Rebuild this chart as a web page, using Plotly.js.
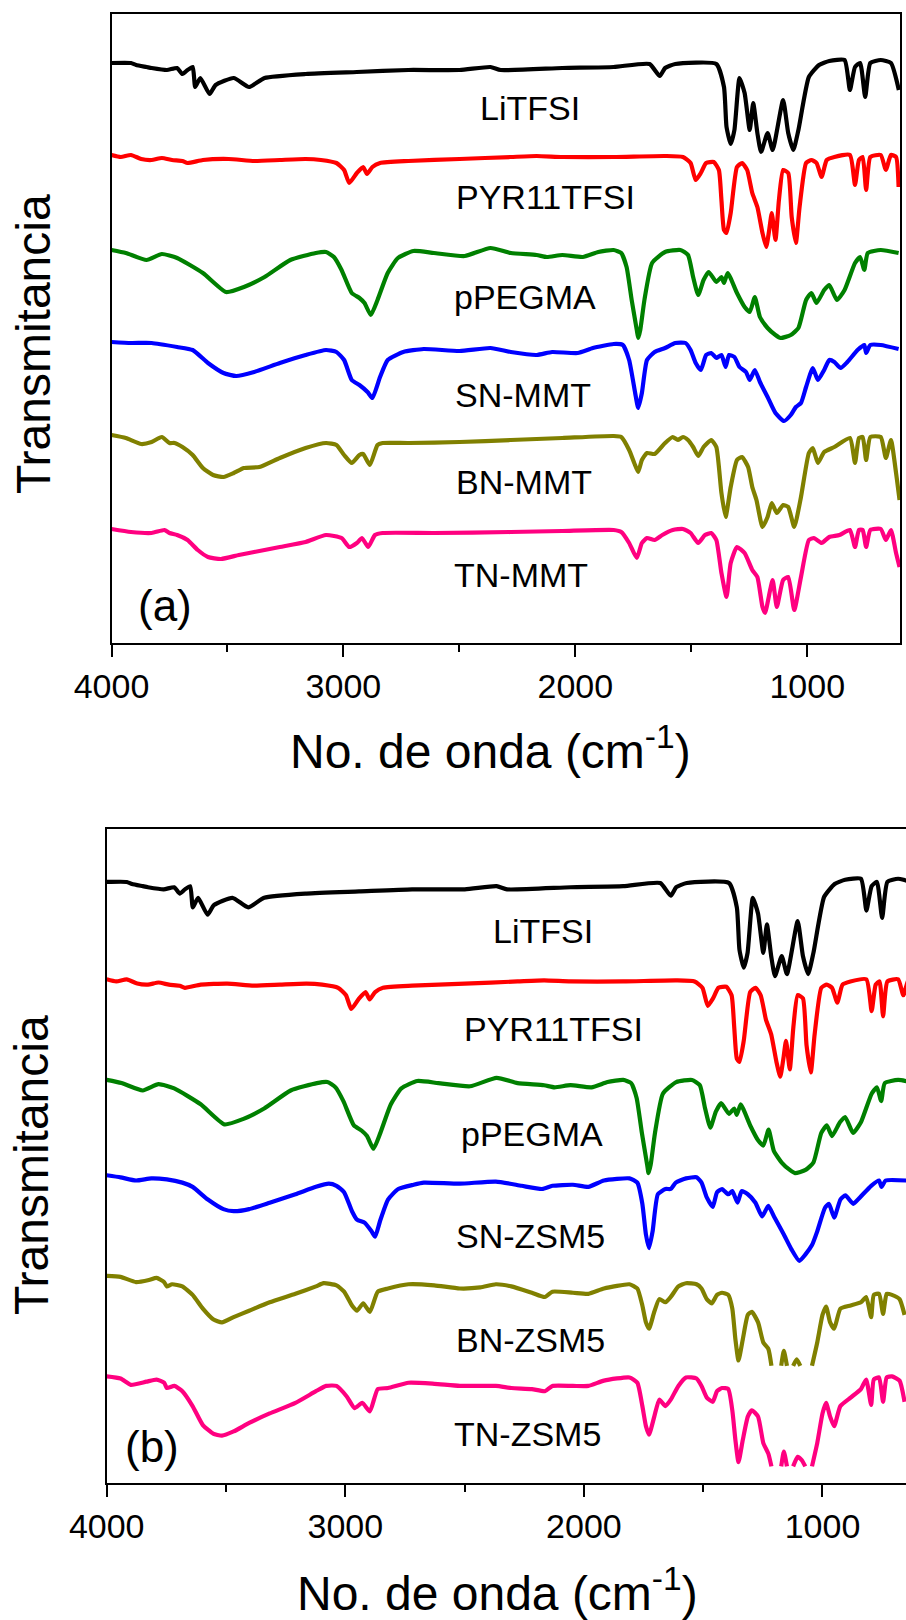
<!DOCTYPE html>
<html>
<head>
<meta charset="utf-8">
<script src="https://cdn.plot.ly/plotly-3.0.1.min.js"></script>
<style>html,body{margin:0;padding:0;background:#fff;}#chart{width:906px;height:1620px;}</style>
</head>
<body>
<div id="chart"></div>
<script>
// ---- Data: FTIR spectra (wavenumber in cm-1, stacked transmittance in a.u.) ----
const litfsiWn = [4000,3916,3894,3849,3827,3761,3717,3694,3672,3650,3639,3617,3577,3551,3473,3407,3340,3163,2942,2720,2499,2366,2322,2056,1835,1680,1636,1613,1569,1392,1359,1348,1330,1314,1292,1270,1248,1233,1215,1199,1171,1149,1104,1082,1060,1038,993,949,905,839,816,794,772,750,728,683,639,605];
const litfsiT  = [580,580,578,576,575,573,575,569,573,576,556,565,549,558,565,556,565,569,571,573,573,576,573,575,576,579,567,575,579,579,556,516,499,513,565,550,513,540,510,491,510,493,543,510,493,513,566,578,582,583,553,576,580,546,580,583,580,553];

const pyrWn = [4000,3960,3916,3872,3827,3783,3739,3694,3672,3606,3495,3384,3274,3163,3097,3030,2997,2975,2942,2915,2898,2875,2842,2720,2499,2278,2167,2056,1835,1613,1536,1503,1481,1459,1436,1403,1381,1370,1359,1348,1330,1303,1281,1259,1237,1215,1193,1177,1164,1153,1137,1122,1104,1082,1067,1049,1033,1005,982,960,938,916,883,816,794,777,761,746,728,683,661,639,617,606];
const pyrT  = [488,486,488,484,483,485,483,482,480,483,484,482,483,484,483,480,473,460,470,476,469,476,480,482,484,486,487,486,486,487,486,480,463,470,480,481,473,443,413,410,430,476,480,473,450,436,410,396,413,430,403,443,473,470,426,400,436,480,483,480,466,483,486,488,458,483,486,453,486,488,473,488,486,456];

const pegmaWn = [4000,3938,3849,3783,3717,3606,3506,3429,3340,3229,3119,3075,3041,3008,2964,2931,2909,2882,2853,2809,2765,2698,2610,2477,2366,2278,2167,2123,2056,1968,1901,1835,1802,1779,1757,1735,1729,1720,1702,1669,1613,1547,1514,1492,1470,1447,1425,1392,1370,1359,1343,1303,1270,1248,1226,1204,1171,1137,1115,1071,1038,1005,982,960,927,905,872,839,794,772,754,739,683,606];
const pegmaT  = [393,390,383,389,385,370,351,356,366,383,390,391,386,373,350,345,340,328,343,370,385,392,390,387,395,390,388,386,388,386,391,393,390,376,343,313,305,313,343,380,391,393,388,366,348,363,371,361,366,360,370,350,336,331,346,326,315,308,305,308,315,343,350,340,353,358,343,353,380,386,373,390,393,390];

const snMmtWn = [4000,3916,3827,3717,3650,3584,3517,3462,3385,3274,3163,3075,3030,2997,2964,2931,2896,2875,2842,2809,2742,2654,2499,2366,2278,2167,2100,1990,1924,1835,1795,1768,1742,1729,1713,1691,1658,1613,1569,1525,1503,1481,1459,1436,1414,1392,1370,1352,1337,1314,1292,1264,1248,1226,1204,1171,1137,1100,1071,1049,1027,1005,976,954,927,905,883,856,827,783,754,746,728,683,606];
const snMmtT  = [301,300,300,296,293,280,270,267,271,280,288,293,291,283,263,258,251,245,266,283,291,294,292,295,291,288,291,290,295,299,298,283,250,235,250,283,291,295,300,300,293,280,273,288,290,285,288,276,288,286,276,271,263,273,261,246,230,222,228,236,240,256,275,263,273,283,281,275,281,293,298,290,298,298,294];

const bnMmtWn = [4000,3938,3872,3827,3783,3750,3728,3694,3650,3606,3562,3517,3473,3429,3362,3274,3163,3075,3030,2997,2964,2931,2915,2886,2853,2831,2720,2499,2278,2056,1835,1802,1768,1746,1729,1713,1691,1658,1613,1580,1558,1536,1514,1492,1470,1447,1414,1392,1370,1352,1330,1303,1281,1255,1237,1219,1193,1171,1153,1131,1104,1082,1056,1027,993,976,954,927,883,816,794,777,761,746,728,683,661,639,617,602];
const bnMmtT  = [208,205,199,201,206,200,200,196,188,175,168,166,170,175,176,185,195,200,198,188,180,188,189,178,198,200,200,201,203,205,207,206,193,180,171,183,190,189,200,206,203,206,203,196,187,196,203,196,150,126,156,183,186,176,156,143,116,126,140,130,138,136,116,146,190,195,180,191,196,205,180,205,206,183,206,206,185,203,170,143];

const tnMmtWn = [4000,3916,3827,3772,3750,3717,3672,3628,3584,3528,3451,3385,3274,3163,3075,3008,2975,2942,2920,2893,2864,2831,2610,2278,2056,1835,1802,1768,1735,1713,1691,1658,1625,1580,1536,1503,1470,1441,1414,1392,1370,1348,1330,1303,1270,1237,1215,1193,1182,1160,1149,1131,1104,1082,1056,1027,993,971,938,905,861,816,794,777,761,746,728,683,661,639,617,602];
const tnMmtT  = [114,111,110,113,110,108,103,93,86,84,88,91,96,101,108,105,96,100,105,96,108,110,110,111,112,113,111,100,85,100,105,103,108,113,114,110,100,108,110,103,70,46,80,96,90,73,66,36,30,53,63,36,63,66,33,66,103,105,100,106,108,113,96,113,113,96,113,114,103,113,90,76];

const snZsmWn = [4000,3942,3877,3813,3748,3683,3640,3576,3511,3468,3403,3317,3209,3123,3069,3037,3005,2972,2951,2918,2890,2875,2854,2821,2778,2714,2671,2520,2369,2261,2175,2132,2046,1981,1916,1809,1776,1755,1740,1727,1712,1690,1658,1636,1615,1572,1528,1507,1485,1460,1442,1421,1395,1378,1356,1339,1313,1281,1253,1227,1201,1162,1130,1097,1072,1044,1022,990,973,951,925,904,871,843,796,763,753,735,649];
const snZsmT  = [303,301,298,300,299,296,292,280,271,269,271,277,285,292,295,293,287,269,261,258,250,245,260,280,290,294,296,295,297,293,290,293,294,292,298,300,296,276,247,234,250,285,290,290,296,300,301,296,282,273,287,290,285,288,277,288,285,277,264,274,263,247,233,222,228,237,250,272,276,263,280,284,276,282,293,298,292,298,298];

// null = band saturated / cut off in the original figure
const bnZsmWn = [4000,3942,3877,3823,3791,3759,3748,3726,3683,3640,3597,3554,3517,3468,3403,3317,3209,3123,3091,3037,3005,2972,2951,2925,2897,2864,2821,2735,2627,2520,2434,2369,2304,2218,2164,2132,2046,1981,1916,1809,1776,1755,1740,1727,1705,1684,1658,1636,1604,1572,1528,1507,1485,1464,1442,1421,1395,1378,1365,1352,1334,1313,1296,1270,1248,1227,1214,1194,1173,1162,1149,1136,1123,1108,1093,1068,1044,1022,1000,985,968,951,925,882,839,817,796,785,763,746,731,709,677,656];
const bnZsmT  = [208,207,202,204,206,202,198,200,198,190,177,167,164,169,175,183,191,198,201,199,193,180,175,182,174,193,196,200,199,196,197,200,198,192,188,193,192,191,196,200,196,180,164,158,174,186,183,188,198,201,200,196,186,182,190,192,190,177,148,128,148,171,174,164,145,139,123,null,123,137,123,null,123,129,123,null,123,145,171,179,164,158,177,180,183,188,169,190,191,172,191,190,186,171];

const tnZsmWn = [4000,3942,3899,3834,3791,3759,3748,3716,3683,3640,3597,3554,3517,3468,3403,3317,3209,3123,3080,3037,2994,2961,2929,2897,2864,2821,2735,2627,2520,2369,2304,2218,2164,2132,2046,1981,1916,1809,1776,1755,1740,1727,1705,1684,1658,1636,1604,1572,1528,1507,1485,1460,1442,1421,1395,1378,1365,1352,1334,1313,1296,1270,1248,1227,1214,1194,1173,1162,1149,1136,1123,1104,1087,1072,1058,1044,1022,1000,985,968,951,925,882,839,817,796,785,763,746,731,709,677,656];
const tnZsmT  = [113,111,105,108,110,107,102,104,99,85,67,59,57,61,69,78,88,99,104,104,94,83,88,80,101,102,107,106,104,104,102,101,99,104,104,104,109,112,107,85,66,58,75,91,85,91,104,112,111,104,93,89,99,102,101,81,53,32,53,75,81,75,50,40,28,null,28,42,28,null,28,37,34,28,null,28,50,78,88,75,66,85,93,101,110,86,110,112,89,112,113,109,89];

const xTickVals = [4000, 3000, 2000, 1000];
const xTickText = ['4000', '3000', '2000', '1000'];
const xMinorVals = [3500, 2500, 1500];
const labelsA = ['LiTFSI', 'PYR11TFSI', 'pPEGMA', 'SN-MMT', 'BN-MMT', 'TN-MMT'];
const labelsB = ['LiTFSI', 'PYR11TFSI', 'pPEGMA', 'SN-ZSM5', 'BN-ZSM5', 'TN-ZSM5'];
const colors = ['#000000', '#FF0000', '#008000', '#0000FF', '#808000', '#FF0080'];

// ---- Build traces ----
const seriesA = [[litfsiWn, litfsiT], [pyrWn, pyrT], [pegmaWn, pegmaT], [snMmtWn, snMmtT], [bnMmtWn, bnMmtT], [tnMmtWn, tnMmtT]];
const seriesB = [[litfsiWn, litfsiT], [pyrWn, pyrT], [pegmaWn, pegmaT], [snZsmWn, snZsmT], [bnZsmWn, bnZsmT], [tnZsmWn, tnZsmT]];

const traces = [];
seriesA.forEach((s, i) => traces.push({
  x: s[0], y: s[1], name: labelsA[i], type: 'scatter', mode: 'lines', xaxis: 'x', yaxis: 'y',
  line: {color: colors[i], width: 4.2, shape: 'spline', smoothing: 0.5}, connectgaps: false, hoverinfo: 'skip'
}));
seriesB.forEach((s, i) => traces.push({
  x: s[0], y: s[1], name: labelsB[i], type: 'scatter', mode: 'lines', xaxis: 'x2', yaxis: 'y2',
  line: {color: colors[i], width: 4.2, shape: 'spline', smoothing: 0.5}, connectgaps: false, hoverinfo: 'skip'
}));

// ---- Layout ----
const W = 906, H = 1620;
const px = (x) => x / W;
const py = (y) => 1 - y / H;
const FONT = '"Liberation Sans", Arial, Helvetica, sans-serif';

function xAxis(domain, range, mirror) {
  return {
    domain: domain, range: range, tickmode: 'array', tickvals: xTickVals, ticktext: xTickText,
    ticks: 'outside', ticklen: 12, tickwidth: 2, tickcolor: '#000',
    minor: {tickmode: 'array', tickvals: xMinorVals, ticks: 'outside', ticklen: 7, tickwidth: 2, tickcolor: '#000', showgrid: false},
    showline: true, linewidth: 2, linecolor: '#000', mirror: mirror,
    showgrid: false, zeroline: false, tickfont: {size: 34, color: '#000', family: FONT},
    automargin: false, fixedrange: true
  };
}
function yAxis(domain, range, mirror) {
  return {
    domain: domain, range: range, showticklabels: false, ticks: '',
    showline: true, linewidth: 2, linecolor: '#000', mirror: mirror,
    showgrid: false, zeroline: false, automargin: false, fixedrange: true
  };
}

const annotations = [];
const posA = [[530, 108], [545, 197], [525, 297], [523, 395], [524, 482], [521, 575]];
const posB = [[543, 931], [553, 1029], [532, 1134], [530, 1236], [530, 1340], [527, 1434]];
labelsA.forEach((t, i) => annotations.push({text: t, xref: 'paper', yref: 'paper', x: px(posA[i][0]), y: py(posA[i][1]), xanchor: 'center', yanchor: 'middle', showarrow: false, font: {size: 34, color: '#000', family: FONT}}));
labelsB.forEach((t, i) => annotations.push({text: t, xref: 'paper', yref: 'paper', x: px(posB[i][0]), y: py(posB[i][1]), xanchor: 'center', yanchor: 'middle', showarrow: false, font: {size: 34, color: '#000', family: FONT}}));
annotations.push({text: '(a)', xref: 'paper', yref: 'paper', x: px(165), y: py(605), xanchor: 'center', yanchor: 'middle', showarrow: false, font: {size: 44, color: '#000', family: FONT}});
annotations.push({text: '(b)', xref: 'paper', yref: 'paper', x: px(152), y: py(1446), xanchor: 'center', yanchor: 'middle', showarrow: false, font: {size: 44, color: '#000', family: FONT}});
// axis titles
annotations.push({text: 'No. de onda (cm<sup>-1</sup>)', xref: 'paper', yref: 'paper', x: px(490), y: py(748), xanchor: 'center', yanchor: 'middle', showarrow: false, font: {size: 48, color: '#000', family: FONT}});
annotations.push({text: 'No. de onda (cm<sup>-1</sup>)', xref: 'paper', yref: 'paper', x: px(497), y: py(1590), xanchor: 'center', yanchor: 'middle', showarrow: false, font: {size: 48, color: '#000', family: FONT}});
annotations.push({text: 'Transmitancia', xref: 'paper', yref: 'paper', x: px(33), y: py(344), xanchor: 'center', yanchor: 'middle', textangle: -90, showarrow: false, font: {size: 48, color: '#000', family: FONT}});
annotations.push({text: 'Transmitancia', xref: 'paper', yref: 'paper', x: px(31), y: py(1165), xanchor: 'center', yanchor: 'middle', textangle: -90, showarrow: false, font: {size: 48, color: '#000', family: FONT}});

const layout = {
  width: W, height: H, margin: {l: 0, r: 0, t: 0, b: 0, pad: 0},
  paper_bgcolor: '#ffffff', plot_bgcolor: '#ffffff', showlegend: false,
  font: {family: FONT, color: '#000'},
  xaxis: Object.assign(xAxis([111.5 / W, 900 / W], [4000, 600], true), {anchor: 'y'}),
  yaxis: Object.assign(yAxis([py(643), py(14)], [0, 629], true), {anchor: 'x'}),
  xaxis2: Object.assign(xAxis([106.7 / W, 1], [4000, 650], true), {anchor: 'y2'}),
  yaxis2: Object.assign(yAxis([py(1483), py(829)], [12.3, 630], false), {anchor: 'x2'}),
  annotations: annotations
};

Plotly.newPlot('chart', traces, layout, {staticPlot: true, displayModeBar: false});
</script>
</body>
</html>
